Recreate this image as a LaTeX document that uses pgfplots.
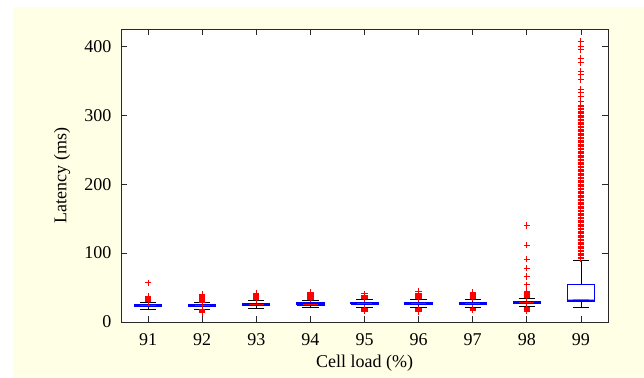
\documentclass[border=0pt]{standalone}
\usepackage{pgfplots}
\pgfplotsset{compat=1.18}
\usepackage{fontspec}
\setmainfont{Liberation Serif}
\definecolor{figbg}{RGB}{255,255,229}
\definecolor{axcol}{RGB}{40,40,40}
\newcommand\lbl{\fontsize{18bp}{21bp}\selectfont}
\begin{document}
\lbl
\begin{tikzpicture}[font=\lbl]
\useasboundingbox (-121bp,-56bp) rectangle (523bp,322bp);
\fill[white] (-121bp,-56bp) rectangle (523bp,322bp);
\fill[figbg] (-108bp,-56bp) rectangle (523bp,315bp);
\begin{axis}[
  at={(0,0)}, anchor=south west,
  scale only axis, width=487bp, height=293bp,
  xmin=90.5, xmax=99.5, ymin=0, ymax=425,
  xtick={91,92,93,94,95,96,97,98,99}, ytick={0,100,200,300,400},
  tick align=inside, tick pos=both,
  major tick length=6bp,
  axis background/.style={fill=white},
  axis line style={axcol, line width=0.7pt},
  every tick/.style={axcol, line width=0.7pt},
  tick label style={font=\lbl, black},
  /pgf/number format/assume math mode=true,
  xticklabel style={yshift=-5bp},
  yticklabel style={xshift=-3.5bp},
  label style={font=\lbl},
  xlabel={Cell load (\%)}, ylabel={Latency (ms)},
  xlabel style={at={(axis description cs:0.5,-0.14)}, anchor=center},
  ylabel style={at={(axis description cs:-0.121,0.5)}, anchor=center},
  wsk/.style={black, line width=0.8pt, mark=none},
  bxs/.style={blue, fill=blue, line width=1.2pt, mark=none, line join=miter},
  med/.style={red, line width=1pt, mark=none},
  out/.style={red, only marks, mark=+, mark size=3.2bp, mark options={line width=0.9pt, draw=red}},
]
% ---------- 91
\addplot[wsk] coordinates {(91,25) (91,29)};
\addplot[wsk] coordinates {(91,22) (91,18)};
\addplot[wsk] coordinates {(90.85,29) (91.15,29)};
\addplot[wsk] coordinates {(90.85,18) (91.15,18)};
\addplot[bxs] coordinates {(90.75,22) (91.25,22) (91.25,25) (90.75,25) (90.75,22)};
\addplot[med] coordinates {(90.86,23.5) (91.14,23.5)};
\addplot[out] coordinates {(91,30) (91,31) (91,32) (91,33) (91,34) (91,35) (91,36) (91,37) (91,57)};
% ---------- 92
\addplot[wsk] coordinates {(92,25) (92,28.5)};
\addplot[wsk] coordinates {(92,22) (92,19)};
\addplot[wsk] coordinates {(91.85,28.5) (92.15,28.5)};
\addplot[wsk] coordinates {(91.85,19) (92.15,19)};
\addplot[bxs] coordinates {(91.75,22) (92.25,22) (92.25,25) (91.75,25) (91.75,22)};
\addplot[med] coordinates {(91.86,23.5) (92.14,23.5)};
\addplot[out] coordinates {(92,14) (92,15) (92,16) (92,17) (92,18) (92,29) (92,30) (92,31) (92,32) (92,33) (92,34) (92,35) (92,36) (92,37) (92,38) (92,40)};
% ---------- 93
\addplot[wsk] coordinates {(93,26.5) (93,31)};
\addplot[wsk] coordinates {(93,23.5) (93,19.5)};
\addplot[wsk] coordinates {(92.85,31) (93.15,31)};
\addplot[wsk] coordinates {(92.85,19.5) (93.15,19.5)};
\addplot[bxs] coordinates {(92.75,23.5) (93.25,23.5) (93.25,26.5) (92.75,26.5) (92.75,23.5)};
\addplot[med] coordinates {(92.86,25) (93.14,25)};
\addplot[out] coordinates {(93,32) (93,33) (93,34) (93,35) (93,36) (93,37) (93,38) (93,39) (93,40) (93,42)};
% ---------- 94
\addplot[wsk] coordinates {(94,27.5) (94,32)};
\addplot[wsk] coordinates {(94,24.5) (94,20.5)};
\addplot[wsk] coordinates {(93.85,32) (94.15,32)};
\addplot[wsk] coordinates {(93.85,20.5) (94.15,20.5)};
\addplot[bxs] coordinates {(93.75,24.5) (94.25,24.5) (94.25,27.5) (93.75,27.5) (93.75,24.5)};
\addplot[med] coordinates {(93.86,26) (94.14,26)};
\addplot[out] coordinates {(94,33) (94,34) (94,35) (94,36) (94,37) (94,38) (94,39) (94,40) (94,41) (94,43)};
% ---------- 95
\addplot[wsk] coordinates {(95,28.5) (95,33)};
\addplot[wsk] coordinates {(95,25.5) (95,21)};
\addplot[wsk] coordinates {(94.85,33) (95.15,33)};
\addplot[wsk] coordinates {(94.85,21) (95.15,21)};
\addplot[bxs] coordinates {(94.75,25.5) (95.25,25.5) (95.25,28.5) (94.75,28.5) (94.75,25.5)};
\addplot[med] coordinates {(94.86,27) (95.14,27)};
\addplot[out] coordinates {(95,16) (95,17) (95,18) (95,19) (95,20) (95,34) (95,35) (95,36) (95,37) (95,38) (95,39) (95,41)};
% ---------- 96
\addplot[wsk] coordinates {(96,28.5) (96,33)};
\addplot[wsk] coordinates {(96,25) (96,20.5)};
\addplot[wsk] coordinates {(95.85,33) (96.15,33)};
\addplot[wsk] coordinates {(95.85,20.5) (96.15,20.5)};
\addplot[bxs] coordinates {(95.75,25) (96.25,25) (96.25,28.5) (95.75,28.5) (95.75,25)};
\addplot[med] coordinates {(95.86,26.5) (96.14,26.5)};
\addplot[out] coordinates {(96,15) (96,16) (96,17) (96,18) (96,19) (96,34) (96,35) (96,36) (96,37) (96,38) (96,39) (96,40) (96,41) (96,42) (96,44)};
% ---------- 97
\addplot[wsk] coordinates {(97,28.5) (97,33.5)};
\addplot[wsk] coordinates {(97,25.5) (97,21)};
\addplot[wsk] coordinates {(96.85,33.5) (97.15,33.5)};
\addplot[wsk] coordinates {(96.85,21) (97.15,21)};
\addplot[bxs] coordinates {(96.75,25.5) (97.25,25.5) (97.25,28.5) (96.75,28.5) (96.75,25.5)};
\addplot[med] coordinates {(96.86,27) (97.14,27)};
\addplot[out] coordinates {(97,17) (97,18) (97,19) (97,20) (97,34.5) (97,35) (97,36) (97,37) (97,38) (97,39) (97,40) (97,41) (97,42) (97,43)};
% ---------- 98
\addplot[wsk] coordinates {(98,30) (98,34)};
\addplot[wsk] coordinates {(98,26.5) (98,22)};
\addplot[wsk] coordinates {(97.85,34) (98.15,34)};
\addplot[wsk] coordinates {(97.85,22) (98.15,22)};
\addplot[bxs] coordinates {(97.75,26.5) (98.25,26.5) (98.25,30) (97.75,30) (97.75,26.5)};
\addplot[med] coordinates {(97.86,28) (98.14,28)};
\addplot[out] coordinates {(98,16) (98,17) (98,18) (98,19) (98,20) (98,21) (98,35) (98,36) (98,37) (98,38) (98,39) (98,40) (98,41) (98,42) (98,43) (98,45) (98,54) (98,66) (98,78) (98,91) (98,111.5) (98,140)};
% ---------- 99
\addplot[wsk] coordinates {(99,54) (99,90)};
\addplot[wsk] coordinates {(99,31) (99,21.5)};
\addplot[wsk] coordinates {(98.86,90) (99.14,90)};
\addplot[wsk] coordinates {(98.86,21.5) (99.14,21.5)};
\addplot[bxs, fill=white, line width=1.3pt] coordinates {(98.75,31) (99.25,31) (99.25,54) (98.75,54) (98.75,31)};
\addplot[blue, fill=blue, line width=0.1pt, mark=none] coordinates {(98.75,30.5) (99.25,30.5) (99.25,32.5) (98.75,32.5) (98.75,30.5)};
\addplot[med, red!75, line width=1.3pt] coordinates {(98.86,33) (99.14,33)};
\addplot[out] coordinates {
 (99,92) (99,94) (99,96) (99,98) (99,100) (99,102) (99,104) (99,106) (99,108) (99,110)
 (99,112) (99,114) (99,116) (99,118) (99,120) (99,122) (99,124) (99,126) (99,128) (99,130)
 (99,132) (99,134) (99,136) (99,138) (99,140) (99,142) (99,144) (99,146) (99,148) (99,150)
 (99,152) (99,154) (99,156) (99,158) (99,160) (99,162) (99,164) (99,166) (99,168) (99,170)
 (99,172) (99,174) (99,176) (99,178) (99,180) (99,182) (99,184) (99,186) (99,188) (99,190)
 (99,192) (99,194) (99,196) (99,198) (99,200) (99,202) (99,204) (99,206) (99,208) (99,210)
 (99,212) (99,214) (99,216) (99,218) (99,220) (99,222) (99,224) (99,226) (99,228) (99,230)
 (99,232) (99,234) (99,236) (99,238) (99,240) (99,242) (99,244) (99,246) (99,248) (99,250)
 (99,252) (99,254) (99,256) (99,258) (99,260) (99,262) (99,264) (99,266) (99,268) (99,270)
 (99,272) (99,274) (99,276) (99,278) (99,280) (99,282) (99,284) (99,286) (99,288) (99,290)
 (99,292) (99,294) (99,296) (99,298) (99,300) (99,302) (99,304) (99,306) (99,308) (99,310)
 (99,312) (99,314) (99,320) (99,327) (99,333) (99,337) (99,352) (99,359) (99,364) (99,376)
 (99,383) (99,395) (99,400) (99,407)};
\end{axis}
\end{tikzpicture}
\end{document}
